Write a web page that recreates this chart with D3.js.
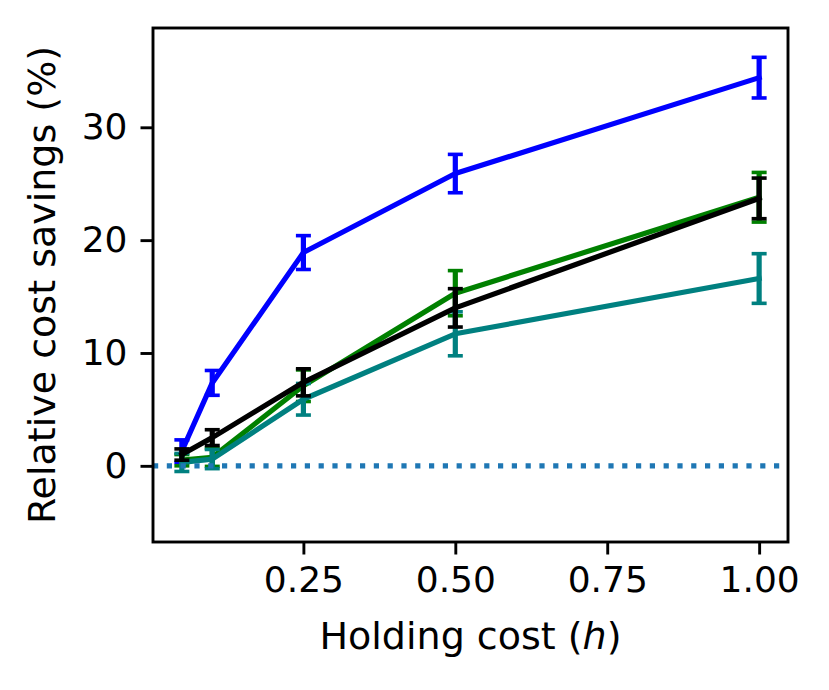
<!DOCTYPE html>
<html>
<head>
<meta charset="utf-8">
<script src="https://cdn.jsdelivr.net/npm/d3@7"></script>
<style>
  html, body { margin: 0; padding: 0; background: #fff; }
  svg { display: block; }
  text { font-family: "DejaVu Sans", sans-serif; fill: #000; }
</style>
</head>
<body>
<svg id="chart" width="829" height="690"></svg>
<script>
// ---- data ----
const hValues = [0.05, 0.1, 0.25, 0.5, 1.0];

const blueMean  = [1.3, 7.35, 18.9, 25.9, 34.4];
const blueErr   = [1.0, 1.1, 1.5, 1.7, 1.8];

const greenMean = [0.5, 0.75, 7.1, 15.3, 23.8];
const greenErr  = [0.5, 0.8, 1.4, 2.0, 2.2];

const tealMean  = [0.3, 0.6, 5.9, 11.7, 16.6];
const tealErr   = [0.8, 0.85, 1.4, 1.95, 2.2];

const blackMean = [1.0, 2.5, 7.4, 14.0, 23.7];
const blackErr  = [0.5, 0.7, 1.2, 1.7, 1.8];

const xTicks = [0.25, 0.5, 0.75, 1.0];
const xTickLabels = ["0.25", "0.50", "0.75", "1.00"];
const yTicks = [0, 10, 20, 30];
const yTickLabels = ["0", "10", "20", "30"];

const seriesList = [
  { name: "blue",  color: "#0000ff", mean: blueMean,  err: blueErr },
  { name: "green", color: "#008000", mean: greenMean, err: greenErr },
  { name: "teal",  color: "#008080", mean: tealMean,  err: tealErr },
  { name: "black", color: "#000000", mean: blackMean, err: blackErr }
];

// ---- layout ----
const L = 153, R = 788, T = 28, B = 542;
const FS = 36, LFS = 38;
const svg = d3.select("#chart");

const x = d3.scaleLinear().domain([0.0025, 1.0475]).range([L, R]);
const y = d3.scaleLinear().domain([-6.75, 38.8]).range([B, T]);

const plot = svg.append("g");
svg.append("defs").append("clipPath").attr("id", "clip")
  .append("rect").attr("x", L).attr("y", T).attr("width", R - L).attr("height", B - T);
plot.attr("clip-path", "url(#clip)");

const line = d3.line().x(d => x(d[0])).y(d => y(d[1]));

seriesList.forEach(s => {
  const pts = hValues.map((h, i) => [h, s.mean[i], s.err[i]]);
  const g = plot.append("g");
  g.selectAll("line.eb").data(pts).join("line")
    .attr("x1", d => x(d[0])).attr("x2", d => x(d[0]))
    .attr("y1", d => y(d[1] - d[2])).attr("y2", d => y(d[1] + d[2]))
    .attr("stroke", s.color).attr("stroke-width", 5.2);
  ["lo", "hi"].forEach(k => {
    g.selectAll("line.cap" + k).data(pts).join("line")
      .attr("x1", d => x(d[0]) - 7.5).attr("x2", d => x(d[0]) + 7.5)
      .attr("y1", d => y(k === "lo" ? d[1] - d[2] : d[1] + d[2]))
      .attr("y2", d => y(k === "lo" ? d[1] - d[2] : d[1] + d[2]))
      .attr("stroke", s.color).attr("stroke-width", 3.6);
  });
  g.append("path").datum(pts)
    .attr("d", line)
    .attr("fill", "none")
    .attr("stroke", s.color)
    .attr("stroke-width", 5.2)
    .attr("stroke-linejoin", "round")
    .attr("stroke-linecap", "square");
});

// zero reference line
plot.append("line")
  .attr("x1", L).attr("x2", R)
  .attr("y1", y(0)).attr("y2", y(0))
  .attr("stroke", "#1f77b4").attr("stroke-width", 5.2)
  .attr("stroke-dasharray", "5.2,8.6");

// ---- axes ----
const xAxis = d3.axisBottom(x).tickValues(xTicks)
  .tickFormat((d, i) => xTickLabels[i]).tickSize(12.5).tickPadding(12);
const gx = svg.append("g").attr("transform", `translate(0,${B})`).call(xAxis);
gx.select(".domain").remove();
gx.selectAll(".tick line").attr("stroke", "#000").attr("stroke-width", 2.9);
gx.selectAll(".tick text").attr("font-size", FS).attr("font-family", "DejaVu Sans").attr("dy", "0.71em");

const yAxis = d3.axisLeft(y).tickValues(yTicks)
  .tickFormat((d, i) => yTickLabels[i]).tickSize(12.5).tickPadding(13);
const gy = svg.append("g").attr("transform", `translate(${L},0)`).call(yAxis);
gy.select(".domain").remove();
gy.selectAll(".tick line").attr("stroke", "#000").attr("stroke-width", 2.9);
gy.selectAll(".tick text").attr("font-size", FS).attr("font-family", "DejaVu Sans");

// frame
svg.append("rect")
  .attr("x", L).attr("y", T).attr("width", R - L).attr("height", B - T)
  .attr("fill", "none").attr("stroke", "#000").attr("stroke-width", 2.9);

// labels
const xl = svg.append("text")
  .attr("x", (L + R) / 2).attr("y", 649)
  .attr("text-anchor", "middle").attr("font-size", LFS);
xl.append("tspan").text("Holding cost (");
xl.append("tspan").attr("font-style", "italic").text("h");
xl.append("tspan").text(")");

svg.append("text")
  .attr("transform", `translate(55,${(T + B) / 2}) rotate(-90)`)
  .attr("text-anchor", "middle").attr("font-size", LFS)
  .text("Relative cost savings (%)");
</script>
</body>
</html>
